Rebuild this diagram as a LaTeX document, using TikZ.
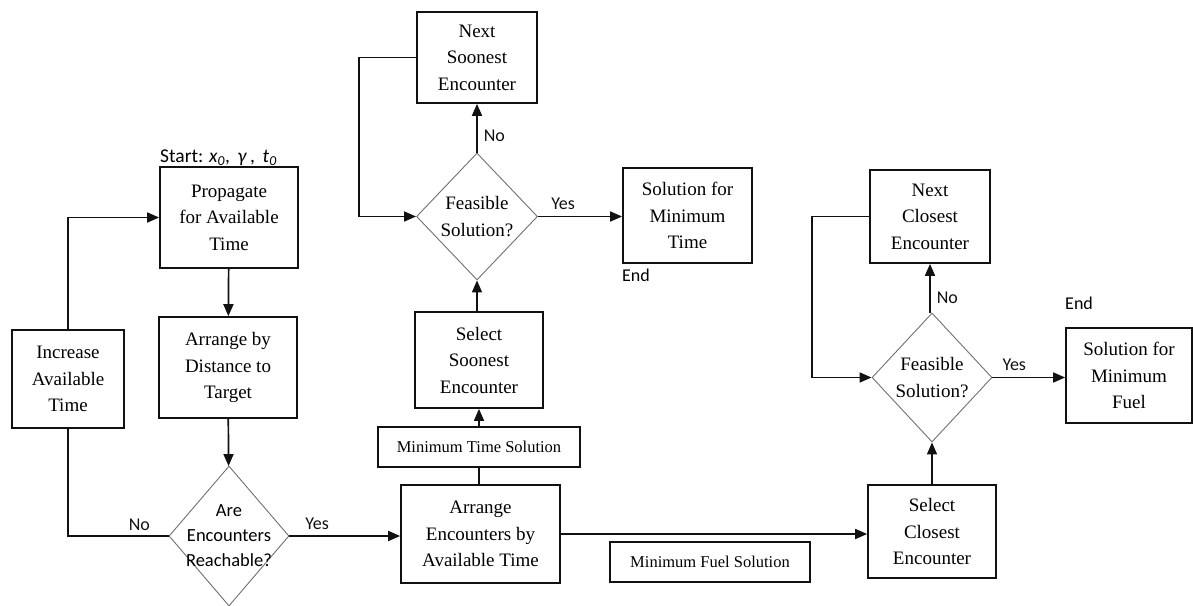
\documentclass[tikz,border=0pt]{standalone}
\usepackage{fontspec}
\setmainfont{Liberation Serif}
\newfontfamily\calib{Carlito}
\usepackage{tikz}
\usetikzlibrary{arrows.meta, positioning, shapes.geometric}
\definecolor{figdark}{HTML}{111111}
\definecolor{figgray}{HTML}{707070}
\tikzset{
  figbox/.style={draw=figdark, line width=1.7pt, align=center, inner sep=0pt,
    font=\fontsize{19}{26.5}\selectfont},
  figsmall/.style={figbox, font=\fontsize{16.5}{20}\selectfont},
  figdecide/.style={diamond, draw=figgray, line width=0.9pt, inner sep=0pt},
  figarrow/.style={-{Triangle[length=12pt, width=10pt]}, line width=1.7pt, figdark},
  figpath/.style={line width=1.7pt, figdark},
  figlabel/.style={font=\calib\fontsize{18}{22}\selectfont, inner sep=0pt},
  figserif/.style={align=center, font=\fontsize{19}{26.5}\selectfont},
  figsans/.style={align=center, font=\calib\fontsize{18.5}{25}\selectfont},
}
\begin{document}
\begin{tikzpicture}[x=1pt, y=-1pt]
  \useasboundingbox (0,0) rectangle (1193,605);
  % linker Teil: Zeit erhoehen, propagieren, sortieren
  \node[figbox, minimum width=138pt, minimum height=101pt] (prop) at (229,217.5) {Propagate\\for Available\\Time};
  \node[figlabel, anchor=base west, font=\calib\fontsize{19.5}{22}\selectfont] (start) at (160,162)
    {Start: \textit{x\textsubscript{0}},\, \textit{γ}\,,\, \textit{t\textsubscript{0}}};
  \node[figbox, minimum width=138pt, minimum height=101pt] (arrdist) at (228,367.5) {Arrange by\\Distance to\\Target};
  \node[figbox, minimum width=112pt, minimum height=98pt] (incr) at (68,379) {Increase\\Available\\Time};
  \node[figdecide, minimum width=120pt, minimum height=140pt,
    label={[figsans]center:Are\\Encounters\\Reachable?}] (reach) at (229,536) {};
  \node[figbox, minimum width=159pt, minimum height=98pt] (arrenc) at (480.5,534) {Arrange\\Encounters by\\Available Time};
  % Zweig minimale Zeit
  \node[figsmall, minimum width=202pt, minimum height=40pt] (mintime) at (479,447) {Minimum Time Solution};
  \node[figbox, minimum width=128pt, minimum height=96pt] (selsoon) at (479,360) {Select\\Soonest\\Encounter};
  \node[figdecide, minimum width=121pt, minimum height=127pt,
    label={[figserif]center:Feasible\\Solution?}] (feasT) at (477,216.5) {};
  \node[figbox, minimum width=120pt, minimum height=91pt] (nextsoon) at (477,57.5) {Next\\Soonest\\Encounter};
  \node[figbox, minimum width=129pt, minimum height=95pt] (soltime) at (687.5,215.5) {Solution for\\Minimum\\Time};
  \node[figlabel, anchor=base west] (endT) at (622,281) {End};
  % Zweig minimaler Treibstoff
  \node[figsmall, minimum width=200pt, minimum height=40pt] (minfuel) at (710,562) {Minimum Fuel Solution};
  \node[figbox, minimum width=128pt, minimum height=93pt] (selclose) at (932,531.5) {Select\\Closest\\Encounter};
  \node[figdecide, minimum width=120pt, minimum height=129pt,
    label={[figserif]center:Feasible\\Solution?}] (feasF) at (932,377.5) {};
  \node[figbox, minimum width=120pt, minimum height=93pt] (nextclose) at (930,216.5) {Next\\Closest\\Encounter};
  \node[figbox, minimum width=126pt, minimum height=95pt] (solfuel) at (1129,375.5) {Solution for\\Minimum\\Fuel};
  \node[figlabel, anchor=base west] (endF) at (1065,309) {End};

  % Verbindungen
  \draw[figarrow] (incr.north) |- (prop.west);
  \draw[figarrow] (prop) -- (arrdist);
  \draw[figarrow] (arrdist) -- (reach);
  \draw[figpath] (reach.west) -| node[figlabel, pos=0.145, above=5pt] {No} (incr.south);
  \draw[figarrow] (reach.east) -- node[figlabel, pos=0.25, above=6pt] {Yes} (reach.east -| arrenc.west);
  \draw[figpath] (arrenc.north -| mintime.south) -- (mintime.south);
  \draw[figarrow] (mintime.north) -- (selsoon.south);
  \draw[figarrow] (selsoon.north -| feasT.south) -- (feasT.south);
  \draw[figarrow] (feasT.north) -- node[figlabel, pos=0.35, right=6pt] {No} (nextsoon.south);
  \draw[figarrow] (nextsoon.west) -- ++(-57,0) |- (feasT.west);
  \draw[figarrow] (feasT.east) -- node[figlabel, pos=0.3, above=6pt] {Yes} (feasT.east -| soltime.west);
  \draw[figarrow] (arrenc.east) -- (arrenc.east -| selclose.west);
  \draw[figarrow] (selclose.north -| feasF.south) -- (feasF.south);
  \draw[figarrow] (feasF.north -| nextclose.south) -- node[figlabel, pos=0.3, right=6pt] {No} (nextclose.south);
  \draw[figarrow] (nextclose.west) -- ++(-57,0) |- (feasF.west);
  \draw[figarrow] (feasF.east) -- node[figlabel, pos=0.3, above=6pt] {Yes} (feasF.east -| solfuel.west);
\end{tikzpicture}
\end{document}
